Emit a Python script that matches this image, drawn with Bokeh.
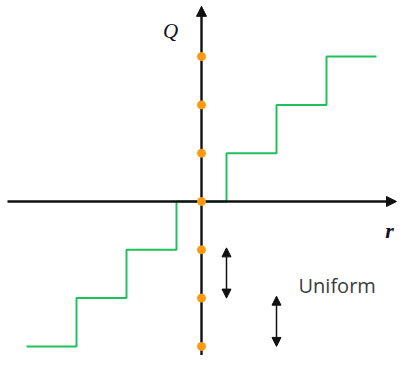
from bokeh.plotting import figure
from bokeh.models import Range1d, Arrow, NormalHead, Label
from bokeh.embed import file_html
from bokeh.resources import INLINE

# Uniform mid-tread quantizer Q(r), in units of the step size
step_edges = [-3.5, -2.5, -1.5, -0.5, 0.5, 1.5, 2.5, 3.5]
step_levels = [-3, -2, -1, 0, 1, 2, 3, 3]
recon_levels = [-3, -2, -1, 0, 1, 2, 3]
arrow_x = [0.5, 1.5]
arrow_from = [-1, -2]
arrow_to = [-2, -3]
x_label = "r"
y_label = "Q"
note = "Uniform"

GREEN = "#1fc25a"
ORANGE = "#ff990f"
AXIS = "#111111"

p = figure(width=397, height=355, output_backend="svg", toolbar_location=None,
           x_range=Range1d(-4.02, 3.92), y_range=Range1d(-3.188, 4.161),
           x_axis_location=None, y_axis_location=None, min_border=0)
p.grid.visible = False
p.outline_line_color = None
p.background_fill_color = "white"

p.step(step_edges, step_levels, mode="after", line_color=GREEN, line_width=2)

# coordinate axes with arrowheads
p.add_layout(Arrow(end=NormalHead(size=10, fill_color=AXIS, line_color=AXIS),
                   x_start=-3.88, y_start=0, x_end=3.90, y_end=0,
                   line_width=2.6, line_color=AXIS))
p.add_layout(Arrow(end=NormalHead(size=10, fill_color=AXIS, line_color=AXIS),
                   x_start=0, y_start=-3.3, x_end=0, y_end=4.04,
                   line_width=2.4, line_color=AXIS))

# reconstruction levels
r = p.scatter([0] * len(recon_levels), recon_levels, size=8,
              fill_color=ORANGE, line_color=ORANGE)
r.level = "overlay"

# step-size double arrows
for xa, y0, y1 in zip(arrow_x, arrow_from, arrow_to):
    p.add_layout(Arrow(start=NormalHead(size=9, fill_color=AXIS, line_color=AXIS),
                       end=NormalHead(size=9, fill_color=AXIS, line_color=AXIS),
                       x_start=xa, y_start=y0 + 0.04, x_end=xa, y_end=y1,
                       line_width=1.5, line_color=AXIS))

p.add_layout(Label(x=-0.62, y=3.52, text=y_label, text_font="Liberation Serif",
                   text_font_style="italic", text_font_size="21px",
                   text_color="#111122", text_align="center",
                   text_baseline="alphabetic"))
p.add_layout(Label(x=3.76, y=-0.60, text=x_label, text_font="Liberation Serif",
                   text_font_style="bold italic", text_font_size="22px",
                   text_color="#111122", text_align="center",
                   text_baseline="alphabetic"))
p.add_layout(Label(x=1.94, y=-1.74, text=note, text_font="Open Sans",
                   text_font_size="20px", text_color="#3c3c3c",
                   text_align="left", text_baseline="alphabetic"))

open("out.html", "w").write(file_html(p, INLINE))
